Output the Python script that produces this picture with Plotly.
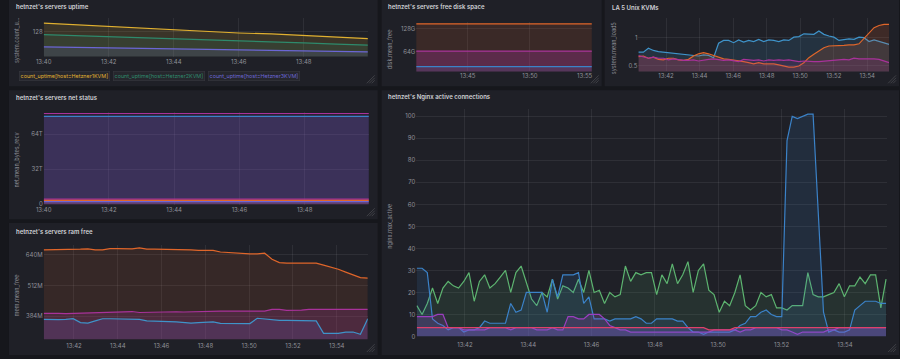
import plotly.graph_objects as go
import pandas as pd

W, H = 900, 359
DAY = "2024-01-01 "

# ---------------- data ----------------
# uptime (11 samples 13:40 -> 13:50)
uptime_t = pd.date_range(DAY + "13:40:00", DAY + "13:50:00", periods=11)
uptime_kvm1 = [137.8, 135.9, 134.0, 132.2, 130.3, 128.5, 126.6, 125.5, 124.0, 122.1, 120.2]
uptime_kvm2 = [124.7, 123.6, 122.5, 121.3, 120.2, 119.1, 118.0, 116.9, 115.4, 113.9, 112.8]
uptime_kvm3 = [110.9, 110.4, 109.8, 109.3, 108.7, 108.1, 107.6, 107.0, 106.5, 105.9, 105.3]
uptime_names = ["count_uptime[host=Hetzner1KVM]", "count_uptime[host=Hetzner2KVM]", "count_uptime[host=Hetzner3KVM]"]

# free disk (GB)
disk_t = pd.date_range(DAY + "13:40:50", DAY + "13:55:00", periods=6)
disk_orange = [142, 142, 142, 142, 142, 142]
disk_magenta = [65, 65, 65, 65, 65, 65]
disk_blue = [21.6, 21.6, 21.6, 21.6, 21.6, 21.6]

# load5
la_t = pd.date_range(DAY + "13:40:21", DAY + "13:55:18", periods=51)
la_blue = [0.74, 0.74, 0.81, 0.77, 0.75, 0.74, 0.73, 0.72, 0.72, 0.71, 0.69, 0.68, 0.67, 0.69, 0.68, 0.64,
           0.90, 0.95, 0.95, 0.91, 0.96, 0.92, 0.95, 0.93, 0.97, 0.93, 0.96, 0.95, 0.93, 0.96, 0.95, 1.01,
           1.02, 1.07, 1.07, 1.06, 1.12, 1.06, 1.03, 1.01, 0.95, 0.97, 0.98, 0.97, 1.01, 1.00, 0.93, 0.96,
           0.93, 0.90, 0.88]
la_orange = [0.66, 0.67, 0.63, 0.65, 0.61, 0.60, 0.63, 0.63, 0.60, 0.59, 0.61, 0.67, 0.71, 0.73, 0.71, 0.68,
             0.64, 0.62, 0.61, 0.60, 0.58, 0.57, 0.55, 0.53, 0.55, 0.53, 0.53, 0.53, 0.51, 0.49, 0.47, 0.47,
             0.49, 0.55, 0.64, 0.70, 0.76, 0.82, 0.85, 0.85, 0.86, 0.86, 0.87, 0.87, 0.89, 0.99, 1.09, 1.18,
             1.22, 1.24, 1.24]
la_purple = [0.68, 0.66, 0.63, 0.65, 0.63, 0.63, 0.60, 0.62, 0.60, 0.59, 0.59, 0.60, 0.58, 0.60, 0.61, 0.62,
             0.60, 0.59, 0.60, 0.58, 0.57, 0.61, 0.60, 0.59, 0.60, 0.58, 0.60, 0.59, 0.60, 0.59, 0.60, 0.59,
             0.57, 0.58, 0.57, 0.57, 0.57, 0.58, 0.59, 0.60, 0.61, 0.61, 0.60, 0.63, 0.62, 0.62, 0.63, 0.62,
             0.61, 0.58, 0.55]

# net bytes recv (T)
net_t = pd.date_range(DAY + "13:40:00", DAY + "13:50:00", periods=6)
net_magenta_hi = [83.0] * 6
net_blue_hi = [80.3] * 6
net_magenta_lo = [4.8] * 6
net_orange_lo = [3.6] * 6
net_violet_lo = [2.4] * 6

# ram free (M)
ram_t = pd.date_range(DAY + "13:40:37", DAY + "13:55:25", periods=45)
ram_orange = [660.6, 660.6, 660.6, 663.5, 662, 663.5, 665, 660.6, 660.6, 666, 666, 665, 665, 669, 663.5,
              663.5, 663.5, 660.6, 660.6, 662, 660.6, 659, 659, 659, 652, 649.5, 648, 647, 644, 644, 647,
              622, 608, 605.5, 605.5, 603, 603, 605.5, 597, 590, 580, 568, 557, 545, 543.5]
ram_magenta = [396, 397, 396, 395, 396, 400, 401, 400, 400, 404, 404, 403, 404, 400, 401, 400, 400, 403,
               403, 402, 403, 406, 406, 405, 406, 406, 406, 407, 406, 406, 406, 413, 413, 409, 409, 410,
               413, 413, 413, 414, 413, 413, 413, 414, 413]
ram_blue = [371.6, 370, 370, 371.6, 374, 358, 356, 365, 374, 374, 374, 374, 374, 371.6, 365, 365, 365, 362,
            361, 358, 356, 358, 358, 361, 355, 355, 355, 354, 354, 376, 373, 367, 367, 367, 366, 366, 365,
            365, 313, 314, 313, 318.6, 318.6, 309, 374]

# nginx active connections
ng_t = pd.date_range(DAY + "13:40:29", DAY + "13:55:18", periods=91)
ng_green = [14, 10, 15, 22, 15, 22, 25, 23, 22, 25, 29, 16, 25, 28, 22, 24, 27, 30, 20, 29, 32, 24, 17, 14,
            20, 18, 26, 17, 23, 22, 20, 26, 20, 30, 20, 21, 15, 20, 18, 19, 32, 25, 29, 28, 29, 29, 19, 28,
            24, 33, 24, 28, 34, 20, 30, 33, 21, 19, 11, 16, 14, 20, 28, 14, 12, 14, 20, 18, 19, 13, 13, 12,
            14, 14, 14, 29, 19, 18, 18, 19, 20, 24, 18, 23, 23, 27, 24, 28, 28, 13, 26]
ng_blue = [31, 31, 29, 8, 6, 5, 3, 4, 4, 2, 3, 3, 4, 7, 6, 6, 6, 6, 15, 11, 12, 20, 20, 20, 20, 11, 26, 18,
           28, 28, 28, 29, 15, 18, 8, 8, 8, 7, 8, 8, 8, 8, 9, 8, 6, 6, 8, 8, 8, 8, 7, 7, 4, 2, 2, 1, 2, 2,
           2, 2, 2, 3, 5, 6, 9, 9, 11, 12, 10, 9, 9, 89, 100, 99, 100, 101, 101, 53, 11, 2, 3, 2, 2, 3, 12,
           14, 16, 16, 16, 15, 15]
ng_purple = [9, 9, 9, 9, 10, 10, 4, 4, 4, 3, 3, 3, 3, 3, 4, 4, 4, 4, 3, 4, 4, 4, 4, 3, 3, 3, 4, 3, 3, 9, 9,
             8, 8, 10, 10, 10, 8, 5, 4, 3, 3, 2, 2, 2, 2, 2, 2, 2, 2, 2, 2, 2, 2, 2, 2, 2, 2, 3, 3, 3, 3, 3,
             2, 3, 3, 4, 4, 4, 4, 4, 3, 3, 2, 1, 2, 2, 2, 2, 2, 3, 3, 4, 4, 4, 4, 4, 4, 4, 4, 4, 4]
ng_red = [4] * 56 + [3] * 5 + [4] * 30

# ---------------- style ----------------
BG = "#16171c"
PANEL = "#1f2027"
GRID = "rgba(255,255,255,0.07)"
TICK = "#8f9098"
TITLE = "#d0d1d6"
FONT = "Inter"

YELLOW = "#E0B030"
TEAL = "#2E8A6C"
VIOLET = "#6B66D4"
ORANGE = "#E0662A"
MAGENTA = "#A8329A"
BLUE = "#3B82C8"
LBLUE = "#3F93C9"
GREEN = "#5DB470"
RED = "#E0406A"


def rgba(hexc, a):
    h = hexc.lstrip("#")
    return "rgba(%d,%d,%d,%.3f)" % (int(h[0:2], 16), int(h[2:4], 16), int(h[4:6], 16), a)


def X(p):
    return p / W


def Y(p):
    return 1 - p / H


fig = go.Figure()

# panel backgrounds
panels = [(1, 0, 373, 87), (377, 0, 599, 87), (602, 0, 899, 87),
          (1, 91, 373, 221), (1, 225, 373, 358), (377, 91, 899, 358)]
shapes = []
for (x0, y0, x1, y1) in panels:
    shapes.append(dict(type="rect", xref="paper", yref="paper", x0=X(x0), x1=X(x1), y0=Y(y1), y1=Y(y0),
                       fillcolor=PANEL, line=dict(width=0), layer="below"))
    # resize handle
    for k in (0, 1, 2):
        d = 3 + k * 2.5
        shapes.append(dict(type="line", xref="paper", yref="paper",
                           x0=X(x1 - 3 - d), y0=Y(y1 - 3), x1=X(x1 - 3), y1=Y(y1 - 3 - d),
                           line=dict(color="rgba(255,255,255,0.18)", width=0.8), layer="above"))


def add(n, x, y, color, fa=0.14, w=1.2, fill_color=None):
    sfx = "" if n == 1 else str(n)
    fc = rgba(fill_color or color, fa)
    fig.add_trace(go.Scatter(x=x, y=y, mode="lines", line=dict(color=color, width=w),
                             fill="tozeroy", fillcolor=fc, xaxis="x" + sfx, yaxis="y" + sfx,
                             showlegend=False, hoverinfo="skip"))


# panel 1 uptime
add(1, uptime_t, uptime_kvm1, YELLOW)
add(1, uptime_t, uptime_kvm2, TEAL)
add(1, uptime_t, uptime_kvm3, VIOLET)
# panel 2 disk
add(2, disk_t, disk_orange, ORANGE)
add(2, disk_t, disk_magenta, MAGENTA, 0.3)
add(2, disk_t, disk_blue, BLUE)
# panel 3 load
add(3, la_t, la_blue, LBLUE, 0.16)
add(3, la_t, la_orange, ORANGE, 0.16)
add(3, la_t, la_purple, MAGENTA, 0.16)
# panel 4 net
add(4, net_t, net_magenta_hi, MAGENTA, 0.10)
add(4, net_t, net_blue_hi, BLUE, 0.24, fill_color=VIOLET)
add(4, net_t, net_magenta_lo, MAGENTA)
add(4, net_t, net_orange_lo, ORANGE)
add(4, net_t, net_violet_lo, VIOLET)
# panel 5 ram
add(5, ram_t, ram_orange, ORANGE, 0.12)
add(5, ram_t, ram_magenta, MAGENTA, 0.2)
add(5, ram_t, ram_blue, LBLUE, 0.16, fill_color=VIOLET)
# panel 6 nginx
add(6, ng_t, ng_green, GREEN, 0.12)
add(6, ng_t, ng_blue, BLUE, 0.14)
add(6, ng_t, ng_purple, "#9B3FC0", 0.2)
add(6, ng_t, ng_red, RED, 0.25, fill_color=VIOLET)

tf = dict(size=6, color=TICK, family=FONT)


def xax(x0, x1, r, dtick=120000, **kw):
    d = dict(domain=[X(x0), X(x1)], range=r, type="date", tickformat="%H:%M", dtick=dtick,
             showgrid=True, gridcolor=GRID, gridwidth=1, zeroline=False, showline=False,
             ticks="", tickfont=tf, fixedrange=True)
    d.update(kw)
    return d


def yax(y0, y1, r, tv, tt, **kw):
    d = dict(domain=[Y(y1), Y(y0)], range=r, tickvals=tv, ticktext=tt, showgrid=True, gridcolor=GRID,
             zeroline=False, showline=False, ticks="", tickfont=tf, fixedrange=True)
    d.update(kw)
    return d


layout = dict(
    width=W, height=H, autosize=False, margin=dict(l=0, r=0, t=0, b=0),
    paper_bgcolor=BG, plot_bgcolor="rgba(0,0,0,0)", showlegend=False,
    font=dict(family=FONT, color=TICK, size=6),
    xaxis=xax(36, 363, [DAY + "13:40:00", DAY + "13:49:58"], anchor="y"),
    yaxis=yax(18, 57, [100, 143.7], [128], ["128"], anchor="x"),
    xaxis2=xax(412, 589, [DAY + "13:40:52", DAY + "13:54:58"], dtick=300000, anchor="y2"),
    yaxis2=yax(22, 72, [8.3, 147.5], [64, 128], ["64G", "128G"], anchor="x2"),
    xaxis3=xax(636, 889, [DAY + "13:40:21", DAY + "13:55:18"], anchor="y3"),
    yaxis3=yax(18, 72, [0.393, 1.357], [0.5, 1], ["0.5", "1"], anchor="x3"),
    xaxis4=xax(36, 364, [DAY + "13:40:00", DAY + "13:49:58"], anchor="y4"),
    yaxis4=yax(113, 207, [-0.9, 84.3], [0, 32, 64], ["0", "32T", "64T"], anchor="x4"),
    xaxis5=xax(36, 363, [DAY + "13:40:37", DAY + "13:55:25"], anchor="y5", ticklabelstandoff=2),
    yaxis5=yax(247, 342, [289, 681.3], [384, 512, 640], ["384M", "512M", "640M"], anchor="x5"),
    xaxis6=xax(412, 887, [DAY + "13:40:28", DAY + "13:55:20"], anchor="y6", ticklabelstandoff=4),
    yaxis6=yax(110, 339.3, [0, 103.3], list(range(0, 101, 10)), [str(v) for v in range(0, 101, 10)],
               anchor="x6"),
    shapes=shapes,
)

ann = []


def text(x, y, t, size=6, color=TITLE, angle=0, xanchor="left", weight=None, **kw):
    f = dict(size=size, color=color, family=FONT)
    if weight:
        f["weight"] = weight
    d = dict(x=X(x), y=Y(y), xref="paper", yref="paper", text=t, showarrow=False, font=f,
             xanchor=xanchor, yanchor="middle", textangle=angle)
    d.update(kw)
    ann.append(d)


# panel titles
text(6.5, 7.3, "hetnzet's servers uptime", weight=600)
text(381.5, 7.3, "hetnzet's servers free disk space", weight=600)
text(607, 7.3, "LA 5 Unix KVMs", weight=600)
text(6.5, 98, "hetnzet's servers net status", weight=600)
text(6.5, 233.7, "hetnzet's servers ram free", weight=600)
text(381.5, 98, "hetnzet's Nginx active connections", weight=600)

# y-axis titles
text(8.5, 40, "system.count_u...", size=5.5, color=TICK, angle=-90, xanchor="center")
text(385, 50, "disk.mean_free", size=5.5, color=TICK, angle=-90, xanchor="center")
text(611, 48, "system.mean_load5", size=5.5, color=TICK, angle=-90, xanchor="center")
text(9, 161, "net.mean_bytes_recv", size=5.5, color=TICK, angle=-90, xanchor="center")
text(9, 298, "mem.mean_free", size=5.5, color=TICK, angle=-90, xanchor="center")
text(385, 228, "nginx.max_active", size=5.5, color=TICK, angle=-90, xanchor="center")

# clamped last tick label of disk panel
text(582, 76, "13:55", size=6, color=TICK, xanchor="center")

# legend of uptime panel
for xc, name, col in zip([57.5, 152.5, 248], uptime_names, [YELLOW, TEAL, VIOLET]):
    text(xc, 76.8, name, size=5.4, color=col, xanchor="center",
         bgcolor="rgba(255,255,255,0.03)", bordercolor="rgba(255,255,255,0.10)", borderwidth=0.6,
         borderpad=1)

layout["annotations"] = ann
fig.update_layout(**layout)

fig.write_html("out.html", config={"displayModeBar": False},
               post_script="document.body.style.margin='0';document.body.style.overflow='hidden';")
